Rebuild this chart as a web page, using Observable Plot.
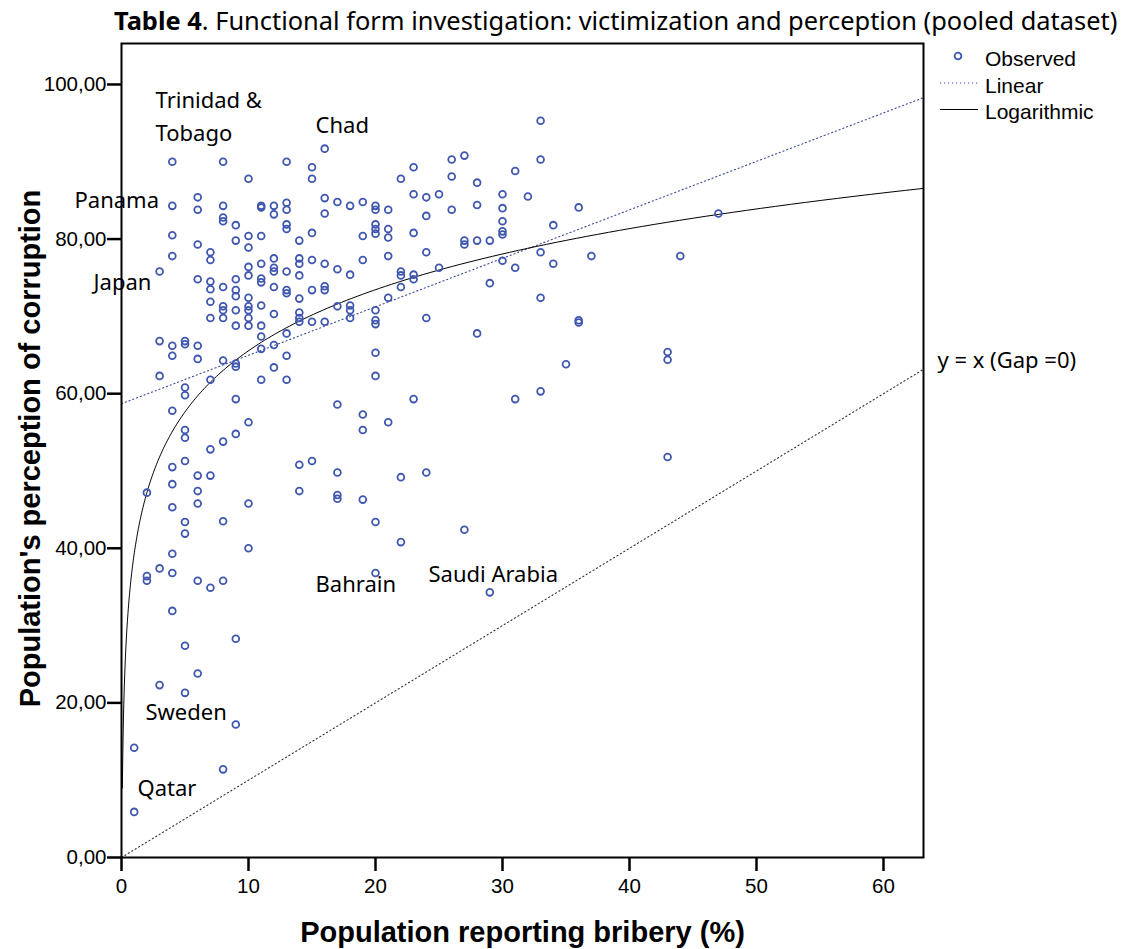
<!DOCTYPE html>
<html>
<head>
<meta charset="utf-8">
<script src="https://cdn.jsdelivr.net/npm/d3@7"></script>
<script src="https://cdn.jsdelivr.net/npm/@observablehq/plot@0.6"></script>
<style>
  body { margin: 0; background: #fff; }
  #chart svg { display: block; }
</style>
</head>
<body>
<div id="chart"></div>
<script>
// ---- Data ----
// Population reporting bribery (%) — observed levels
const briberyLevels = [1, 2, 3, 4, 5, 6, 7, 8, 9, 10, 11, 12, 13, 14, 15, 16, 17, 18, 19, 20,
  21, 22, 23, 24, 25, 26, 27, 28, 29, 30, 31, 32, 33, 34, 35, 36, 37, 43, 44, 47];
// Population's perception of corruption (%) for each bribery level
const perceptionByLevel = [
  [14.2, 5.9],
  [47.2, 36.4, 35.8],
  [75.8, 66.8, 62.3, 37.4, 22.3],
  [90.0, 84.3, 80.5, 77.8, 66.2, 64.9, 57.8, 50.5, 48.3, 45.3, 39.3, 36.8, 31.9],
  [66.8, 66.4, 60.8, 59.8, 55.3, 54.3, 51.3, 43.4, 41.9, 27.4, 21.3],
  [85.4, 83.8, 79.3, 74.8, 66.2, 64.5, 49.4, 47.4, 45.8, 35.8, 23.8],
  [78.3, 77.3, 74.5, 73.5, 71.9, 69.8, 61.8, 52.8, 49.4, 34.9],
  [90.0, 84.3, 82.8, 82.3, 73.8, 71.3, 70.8, 69.8, 64.3, 53.8, 43.5, 35.8, 11.4],
  [81.8, 79.8, 74.8, 73.4, 72.6, 70.8, 68.8, 63.9, 63.5, 59.3, 54.8, 28.3, 17.2],
  [87.8, 80.4, 78.9, 76.4, 75.3, 72.4, 71.3, 70.8, 69.8, 68.8, 56.3, 45.8, 40.0],
  [84.3, 84.1, 80.4, 76.8, 74.9, 74.4, 71.4, 68.8, 67.4, 65.8, 61.8],
  [84.3, 83.2, 77.5, 76.3, 75.8, 73.8, 70.3, 66.3, 63.4],
  [90.0, 84.7, 83.8, 81.9, 81.3, 75.8, 73.4, 73.0, 67.8, 64.9, 61.8],
  [79.8, 77.5, 76.8, 75.3, 72.3, 70.5, 69.8, 69.3, 50.8, 47.4],
  [89.3, 87.8, 80.8, 77.3, 73.4, 69.3, 51.3],
  [91.7, 85.3, 83.3, 76.8, 73.9, 73.4, 69.3],
  [84.8, 76.1, 71.3, 58.6, 49.8, 46.9, 46.4],
  [84.3, 75.4, 71.4, 70.8, 69.8],
  [84.8, 80.4, 77.3, 57.3, 55.3, 46.3],
  [84.3, 83.8, 81.9, 81.3, 80.7, 70.8, 69.5, 69.0, 65.3, 62.3, 43.4, 36.8],
  [83.8, 81.3, 80.2, 77.8, 72.4, 56.3],
  [87.8, 75.8, 75.3, 73.8, 49.2, 40.8],
  [89.3, 85.8, 80.8, 75.4, 74.8, 59.3],
  [85.4, 83.0, 78.3, 69.8, 49.8],
  [85.8, 76.3],
  [90.3, 88.1, 83.8],
  [90.8, 79.8, 79.3, 42.4],
  [87.3, 84.4, 79.8, 67.8],
  [79.8, 74.3, 34.3],
  [85.8, 84.0, 82.3, 81.0, 80.6, 77.2],
  [88.8, 76.3, 59.3],
  [85.5],
  [95.3, 90.3, 78.3, 72.4, 60.3],
  [81.8, 76.8],
  [63.8],
  [84.1, 69.5, 69.2],
  [77.8],
  [65.4, 64.4, 51.8],
  [77.8],
  [83.3]
];

// Fitted lines (coefficients)
const linearFit = { intercept: 58.7, slope: 0.627 };
const logFit = { a: 39.3, b: 11.4 };           // y = a + b * ln(x)
const logStartX = 0.07;

// Axis ticks
const xTicks = [0, 10, 20, 30, 40, 50, 60];
const yTicks = [0, 20, 40, 60, 80, 100];
const xDomain = [0, 63.15];
const yDomain = [0, 105.3];

// Country annotations (data coordinates of the text start / middle)
const labelText = ["Trinidad &\nTobago", "Chad", "Panama", "Japan", "Sweden", "Qatar", "Bahrain", "Saudi Arabia"];
const labelX = [2.68, 15.28, -3.7, -2.2, 1.89, 1.26, 15.28, 24.17];
const labelY = [96.25, 95.15, 85.45, 74.84, 19.09, 9.26, 35.65, 37.07];

const titleBold = "Table 4";
const titleRest = ". Functional form investigation: victimization and perception (pooled dataset)";
const xLabel = "Population reporting bribery (%)";
const yLabel = "Population's perception of corruption";
const gapLabel = "y = x (Gap =0)";
const legendItems = ["Observed", "Linear", "Logarithmic"];

// ---- Build tables ----
const observed = briberyLevels.flatMap((x, i) => perceptionByLevel[i].map(y => ({ x, y })));
const xEnd = xDomain[1];
const linearLine = [0, xEnd].map(x => ({ x, y: linearFit.intercept + linearFit.slope * x }));
const identityLine = [0, xEnd].map(x => ({ x, y: x }));
const nSamples = 300;
const logLine = d3.range(nSamples + 1).map(i => {
  const x = logStartX * Math.pow(xEnd / logStartX, i / nSamples);
  return { x, y: logFit.a + logFit.b * Math.log(x) };
});
const labels = labelText.map((t, i) => ({ t, x: labelX[i], y: labelY[i] }));

const W = 1126, H = 949;
const mL = 121, mR = 203, mT = 43, mB = 92;
const blue = "#3f57ae";
const sansAxis = "'Liberation Sans', Arial, Helvetica, sans-serif";
const sansText = "'Noto Sans', 'Open Sans', sans-serif";
const fmtY = d => d3.format(".2f")(d).replace(".", ",");

const chart = Plot.plot({
  width: W, height: H,
  marginLeft: mL, marginRight: mR, marginTop: mT, marginBottom: mB,
  style: { fontFamily: sansAxis, fontSize: "20px", color: "#000", background: "#fff", overflow: "visible" },
  x: { domain: xDomain },
  y: { domain: yDomain },
  marks: [
    Plot.line(identityLine, { x: "x", y: "y", stroke: "#333", strokeWidth: 1.1, strokeDasharray: "1.2,2.8" }),
    Plot.line(linearLine, { x: "x", y: "y", stroke: "#3a4a9a", strokeWidth: 1.1, strokeDasharray: "1.2,2.8" }),
    Plot.line(logLine, { x: "x", y: "y", stroke: "#000", strokeWidth: 1, curve: "linear" }),
    Plot.dot(observed, { x: "x", y: "y", r: 3.4, stroke: blue, strokeWidth: 1.8, fill: "none" }),
    Plot.frame({ stroke: "#000", strokeWidth: 2 }),
    Plot.axisX({ ticks: xTicks, tickSize: 14, tickPadding: 7, strokeWidth: 2.5, fontSize: 20.5, label: null }),
    Plot.axisY({ ticks: yTicks, tickSize: 14, tickPadding: 1, strokeWidth: 2.5, fontSize: 20.5, tickFormat: fmtY, label: null }),
    Plot.text(labels, { x: "x", y: "y", text: "t", textAnchor: "start", fontSize: 22, fontFamily: sansText, lineHeight: 1.5, fill: "#000" }),
    Plot.text([gapLabel], { x: xEnd, y: 64.2, text: d => d, dx: 14, textAnchor: "start", fontSize: 22, fontFamily: sansText, fill: "#000" }),
    Plot.text([xLabel], { frameAnchor: "bottom", dy: 75, text: d => d, textAnchor: "middle", lineAnchor: "middle", fontSize: 29, fontWeight: "bold", fill: "#000" }),
    Plot.text([yLabel], { frameAnchor: "left", dx: -91, dy: -2, rotate: -90, text: d => d, textAnchor: "middle", lineAnchor: "middle", fontSize: 29, fontWeight: "bold", fill: "#000" })
  ]
});
document.getElementById("chart").append(chart);

// ---- Title and legend (outside the frame) ----
const svg = d3.select(chart);
const title = svg.append("text")
  .attr("x", 114).attr("y", 30).attr("text-anchor", "start")
  .attr("font-family", sansText).attr("font-size", 21).attr("fill", "#000");
title.append("tspan").attr("font-weight", "bold").text(titleBold);
title.append("tspan").text(titleRest);
const targetW = 1004;
const tw = title.node().getComputedTextLength();
if (tw > 0) title.attr("font-size", Math.min(26, 21 * targetW / tw));

const fr = W - mR;  // frame right edge
const lg = svg.append("g").attr("font-family", sansAxis).attr("font-size", 21)
  .attr("fill", "#000").attr("text-anchor", "start");
lg.append("circle").attr("cx", fr + 35).attr("cy", 56).attr("r", 3.4)
  .attr("fill", "none").attr("stroke", blue).attr("stroke-width", 1.8);
lg.append("line").attr("x1", fr + 17).attr("x2", fr + 55).attr("y1", 83).attr("y2", 83)
  .attr("stroke", "#3a4a9a").attr("stroke-width", 1.1).attr("stroke-dasharray", "1.2,2.8");
lg.append("line").attr("x1", fr + 17).attr("x2", fr + 55).attr("y1", 109.5).attr("y2", 109.5)
  .attr("stroke", "#000").attr("stroke-width", 1);
[59, 86, 112].forEach((cy, i) => {
  lg.append("text").attr("x", fr + 62).attr("y", cy).attr("dy", "0.35em").text(legendItems[i]);
});
</script>
</body>
</html>
